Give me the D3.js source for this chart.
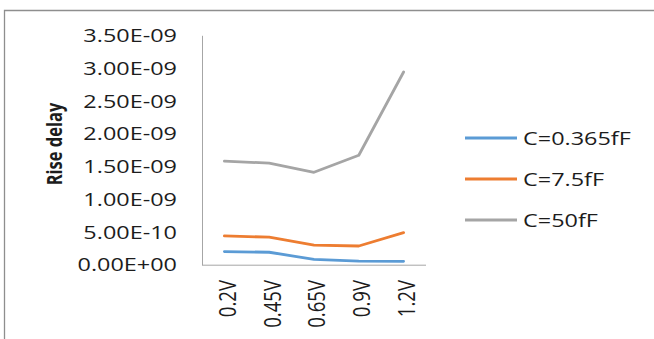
<!DOCTYPE html>
<html>
<head>
<meta charset="utf-8">
<script src="https://cdn.jsdelivr.net/npm/d3@7"></script>
<style>
  html, body { margin: 0; padding: 0; background: #fff; }
  svg { display: block; }
  text { font-family: "Open Sans", "Noto Sans", sans-serif; fill: #1c1c1c; }
</style>
</head>
<body>
<svg id="chart" width="654" height="339"></svg>
<script>
// Supply voltages on the x axis
const categories = ["0.2V", "0.45V", "0.65V", "0.9V", "1.2V"];

// Rise delay (seconds) per load capacitance
const seriesNames = ["C=0.365fF", "C=7.5fF", "C=50fF"];
const riseSmall  = [2.0e-10, 1.9e-10, 8.0e-11, 5.6e-11, 5.2e-11];
const riseMedium = [4.4e-10, 4.2e-10, 3.0e-10, 2.85e-10, 4.9e-10];
const riseLarge  = [1.58e-9, 1.55e-9, 1.41e-9, 1.67e-9, 2.94e-9];

const yTickValues = [0, 5e-10, 1e-9, 1.5e-9, 2e-9, 2.5e-9, 3e-9, 3.5e-9];
const yTickLabels = ["0.00E+00", "5.00E-10", "1.00E-09", "1.50E-09",
                     "2.00E-09", "2.50E-09", "3.00E-09", "3.50E-09"];

const colors = ["#5B9BD5", "#ED7D31", "#A5A5A5"];
const series = [riseSmall, riseMedium, riseLarge].map((values, i) => ({
  name: seriesNames[i], values, color: colors[i]
}));

const svg = d3.select("#chart");
const stretch = 1.26; // horizontal widening of all lettering

// Chart frame (left and top edges)
svg.append("path")
  .attr("d", "M4.5,339 V10.5 H654")
  .attr("fill", "none")
  .attr("stroke", "#8E8E8E")
  .attr("stroke-width", 1.3);

const plot = { left: 202, right: 426, top: 35.3, bottom: 264.7 };

const x = d3.scalePoint()
  .domain(categories)
  .range([plot.left, plot.right])
  .padding(0.5);

const y = d3.scaleLinear()
  .domain([0, 3.5e-9])
  .range([plot.bottom, plot.top]);

// Axes (no tick marks, labels drawn below)
const yAxis = d3.axisLeft(y).tickValues(yTickValues).tickSize(0).tickFormat("");
svg.append("g").attr("transform", `translate(${plot.left},0)`).call(yAxis)
  .call(g => g.select(".domain").attr("stroke", "#A6A6A6").attr("stroke-width", 1));

const xAxis = d3.axisBottom(x).tickSize(0).tickFormat("");
svg.append("g").attr("transform", `translate(0,${plot.bottom})`).call(xAxis)
  .call(g => g.select(".domain").attr("stroke", "#A6A6A6").attr("stroke-width", 1)
    .attr("d", `M${plot.left},0.5H${plot.right}`));

// Y tick labels
svg.append("g").selectAll("text")
  .data(yTickValues)
  .join("text")
  .attr("transform", d => `translate(177,${y(d)}) scale(${stretch},1)`)
  .attr("text-anchor", "end")
  .attr("dy", "0.36em")
  .style("font-size", "18.6px")
  .text((d, i) => yTickLabels[i]);

// X tick labels, rotated
svg.append("g").selectAll("text")
  .data(categories)
  .join("text")
  .attr("transform", d => `translate(${x(d) + 3},280) scale(${stretch},1) rotate(-90)`)
  .attr("text-anchor", "end")
  .attr("dy", "0.36em")
  .style("font-size", "18.6px")
  .text(d => d);

// Y axis title
svg.append("text")
  .attr("transform", `translate(54,144) scale(1.3,1) rotate(-90)`)
  .attr("text-anchor", "middle")
  .attr("dy", "0.36em")
  .style("font-size", "16.5px")
  .style("font-weight", "700")
  .text("Rise delay");

// Series lines
const line = d3.line()
  .x((d, i) => x(categories[i]))
  .y(d => y(d));

svg.append("g").selectAll("path")
  .data(series)
  .join("path")
  .attr("d", s => line(s.values))
  .attr("fill", "none")
  .attr("stroke", s => s.color)
  .attr("stroke-width", 2.8)
  .attr("stroke-linejoin", "round")
  .attr("stroke-linecap", "round");

// Legend
const legend = svg.append("g").selectAll("g")
  .data(series)
  .join("g")
  .attr("transform", (s, i) => `translate(465,${138 + i * 41})`);

legend.append("line")
  .attr("x1", 0).attr("x2", 52)
  .attr("stroke", s => s.color)
  .attr("stroke-width", 2.8);

legend.append("text")
  .attr("transform", `translate(58,0) scale(${stretch},1)`)
  .attr("dy", "0.36em")
  .style("font-size", "18.6px")
  .text(s => s.name);
</script>
</body>
</html>
